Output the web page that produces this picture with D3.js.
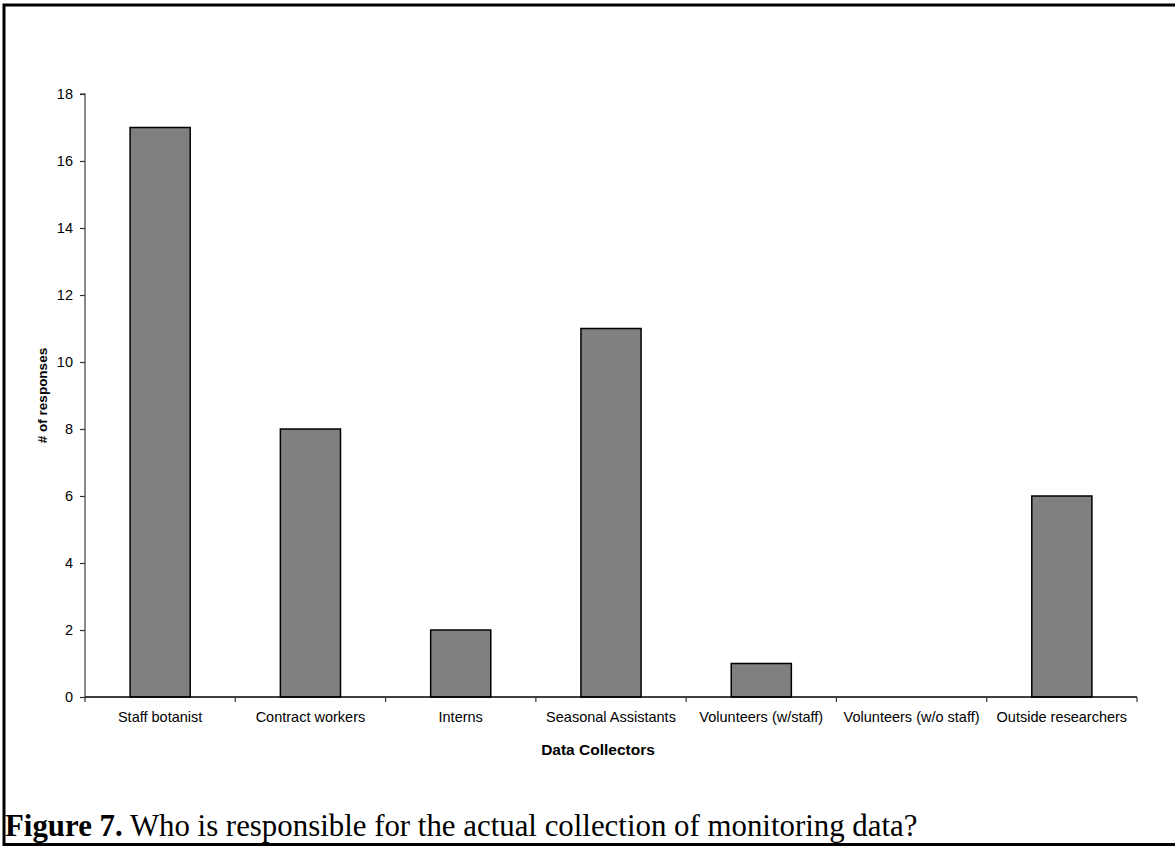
<!DOCTYPE html>
<html>
<head>
<meta charset="utf-8">
<script src="https://cdn.jsdelivr.net/npm/d3@7"></script>
<style>
  html, body { margin: 0; padding: 0; background: #fff; }
  svg { display: block; }
</style>
</head>
<body>
<svg id="chart" width="1175" height="846"></svg>
<script>
// Survey responses: who collects the monitoring data
const categories = [
  "Staff botanist",
  "Contract workers",
  "Interns",
  "Seasonal Assistants",
  "Volunteers (w/staff)",
  "Volunteers (w/o staff)",
  "Outside researchers"
];
const responses = [17, 8, 2, 11, 1, 0, 6];
const yTicks = [0, 2, 4, 6, 8, 10, 12, 14, 16, 18];
const xTitle = "Data Collectors";
const yTitle = "# of responses";
const captionBold = "Figure 7.";
const captionText = " Who is responsible for the actual collection of monitoring data?";

const svg = d3.select("#chart");

// Plot area
const plot = { left: 85, right: 1137, top: 94, bottom: 697 };
const sans = "Liberation Sans, Arial, sans-serif";

const x = d3.scaleBand()
  .domain(categories)
  .range([plot.left, plot.right])
  .paddingInner(0.6)
  .paddingOuter(0.3);

const xOuter = d3.scaleBand()
  .domain(categories)
  .range([plot.left, plot.right]);

const y = d3.scaleLinear()
  .domain([0, 18])
  .range([plot.bottom, plot.top]);

// Frame around the figure (top, left, bottom)
svg.append("path")
  .attr("d", `M1175,5 H4 V844.5 H1175`)
  .attr("fill", "none")
  .attr("stroke", "#000")
  .attr("stroke-width", 3);

// Bars
svg.append("g")
  .selectAll("rect")
  .data(categories.map((c, i) => ({ c, v: responses[i] })).filter(d => d.v > 0))
  .join("rect")
  .attr("x", d => x(d.c))
  .attr("y", d => y(d.v))
  .attr("width", x.bandwidth())
  .attr("height", d => y(0) - y(d.v))
  .attr("fill", "#808080")
  .attr("stroke", "#000")
  .attr("stroke-width", 1.5);

// Y axis
const yAxis = d3.axisLeft(y)
  .tickValues(yTicks)
  .tickSize(5)
  .tickPadding(7)
  .tickFormat(d3.format("d"));

const gy = svg.append("g")
  .attr("transform", `translate(${plot.left},0)`)
  .call(yAxis);
gy.select(".domain")
  .attr("d", `M-5,${plot.top}H0V${plot.bottom}`)
  .attr("stroke", "#666")
  .attr("stroke-width", 1.5);
gy.selectAll(".tick line").attr("stroke", "#333").attr("stroke-width", 1.2);
gy.selectAll(".tick text")
  .attr("font-family", sans)
  .attr("font-size", 14.5)
  .attr("fill", "#000");

// X axis: ticks sit on the category boundaries
const boundaries = categories.map(c => xOuter(c)).concat([plot.right]);
const gx = svg.append("g");
gx.append("line")
  .attr("x1", plot.left).attr("x2", plot.right)
  .attr("y1", plot.bottom).attr("y2", plot.bottom)
  .attr("stroke", "#000")
  .attr("stroke-width", 1.5);
gx.selectAll("line.tick")
  .data(boundaries)
  .join("line")
  .attr("class", "tick")
  .attr("x1", d => d).attr("x2", d => d)
  .attr("y1", plot.bottom).attr("y2", plot.bottom + 5)
  .attr("stroke", "#333")
  .attr("stroke-width", 1.2);
gx.selectAll("text")
  .data(categories)
  .join("text")
  .attr("x", d => xOuter(d) + xOuter.bandwidth() / 2)
  .attr("y", 722)
  .attr("text-anchor", "middle")
  .attr("font-family", sans)
  .attr("font-size", 14.5)
  .attr("fill", "#000")
  .text(d => d);

// Axis titles
svg.append("text")
  .attr("x", 598)
  .attr("y", 755)
  .attr("text-anchor", "middle")
  .attr("font-family", sans)
  .attr("font-size", 15.5)
  .attr("font-weight", "bold")
  .text(xTitle);

svg.append("text")
  .attr("transform", `translate(47,${(plot.top + plot.bottom) / 2}) rotate(-90)`)
  .attr("text-anchor", "middle")
  .attr("font-family", sans)
  .attr("font-size", 13.5)
  .attr("font-weight", "bold")
  .text(yTitle);

// Figure caption, sized to span its line
const cap = svg.append("text")
  .attr("x", 5)
  .attr("y", 836)
  .attr("font-family", "Liberation Serif, Times New Roman, serif")
  .attr("font-size", 28)
  .attr("fill", "#000");
cap.append("tspan").attr("font-weight", "bold").text(captionBold);
cap.append("tspan").text(captionText);
const capW = cap.node().getComputedTextLength();
cap.attr("font-size", 28 * 913 / capW);
</script>
</body>
</html>
